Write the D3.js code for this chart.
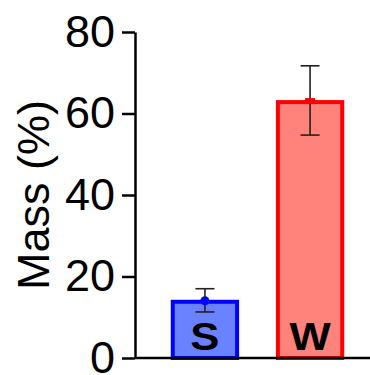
<!DOCTYPE html>
<html>
<head>
<meta charset="utf-8">
<script src="https://cdn.jsdelivr.net/npm/d3@7"></script>
<style>
  body { margin: 0; background: #fff; }
  svg { display: block; font-family: Arial, "Liberation Sans", sans-serif; }
</style>
</head>
<body>
<div id="chart"></div>
<script>
// data
var groups = ["S", "W"];
var means = [13.8, 62.8];
var errLow = [11.3, 54.7];
var errHigh = [17.0, 71.7];
var strokeColors = ["#0000ff", "#ff0000"];
var fillColors = ["#6a82ff", "#ff837b"];
var yTicks = [0, 20, 40, 60, 80];

var width = 370, height = 375;
var margin = {top: 32, right: 0, bottom: 17, left: 135};

var svg = d3.select("#chart").append("svg")
    .attr("width", width)
    .attr("height", height);

var g = svg.append("g")
    .attr("transform", "translate(" + margin.left + "," + margin.top + ")");

var innerW = width - margin.left - margin.right,
    innerH = height - margin.top - margin.bottom;

var x = d3.scaleBand()
    .domain(groups)
    .range([0, 245])
    .paddingInner(0.35)
    .paddingOuter(0.34);

var y = d3.scaleLinear()
    .domain([0, 80])
    .range([innerH, 0]);

// bars
g.selectAll("rect.bar")
  .data(groups)
  .enter()
  .append("rect")
    .attr("class", "bar")
    .attr("x", function(d) { return x(d) + 2; })
    .attr("y", function(d, i) { return y(means[i]); })
    .attr("width", x.bandwidth() - 4)
    .attr("height", function(d, i) { return y(0) - y(means[i]); })
    .style("fill", function(d, i) { return fillColors[i]; })
    .style("stroke", function(d, i) { return strokeColors[i]; })
    .style("stroke-width", 4);

// error bars
var capW = 19;
groups.forEach(function(d, i) {
  var cx = x(d) + x.bandwidth() / 2;
  g.append("line")
    .attr("x1", cx).attr("x2", cx)
    .attr("y1", y(errLow[i])).attr("y2", y(errHigh[i]))
    .style("stroke", "#222").style("stroke-width", 1.6);
  [errLow[i], errHigh[i]].forEach(function(v) {
    g.append("line")
      .attr("x1", cx - capW / 2).attr("x2", cx + capW / 2)
      .attr("y1", y(v)).attr("y2", y(v))
      .style("stroke", "#222").style("stroke-width", 1.6);
  });
  // mean marker
  if (i === 0) {
    g.append("circle")
      .attr("cx", cx).attr("cy", y(means[i]) - 1)
      .attr("r", 4.5)
      .style("fill", strokeColors[i]);
  } else {
    g.append("rect")
      .attr("x", cx - 5).attr("y", y(means[i]) - 4)
      .attr("width", 10).attr("height", 6)
      .style("fill", strokeColors[i]);
  }
  // group label (glyphs are a bit wide in the original)
  g.append("text")
    .attr("transform", "translate(" + cx + "," + (y(0) - 8) + ") scale(1.15,1)")
    .attr("text-anchor", "middle")
    .attr("font-size", "38px")
    .attr("font-weight", "bold")
    .attr("fill", "#000")
    .text(d);
});

// x axis line
g.append("line")
  .attr("x1", 0).attr("x2", innerW)
  .attr("y1", y(0)).attr("y2", y(0))
  .style("stroke", "#000").style("stroke-width", 2.5);

// y axis
var yAxis = g.append("g")
  .call(d3.axisLeft(y).tickValues(yTicks).tickSize(13).tickPadding(7).tickSizeOuter(0));
yAxis.select(".domain").style("stroke-width", 2.5);
yAxis.selectAll(".tick line").style("stroke-width", 2.5);
yAxis.selectAll(".tick text")
  .attr("font-size", "45px")
  .attr("font-family", "Arial, 'Liberation Sans', sans-serif")
  .attr("fill", "#000");

// y title
svg.append("text")
  .attr("transform", "translate(49," + 195 + ") rotate(-90)")
  .attr("text-anchor", "middle")
  .attr("font-size", "45px")
  .attr("fill", "#000")
  .text("Mass (%)");
</script>
</body>
</html>
